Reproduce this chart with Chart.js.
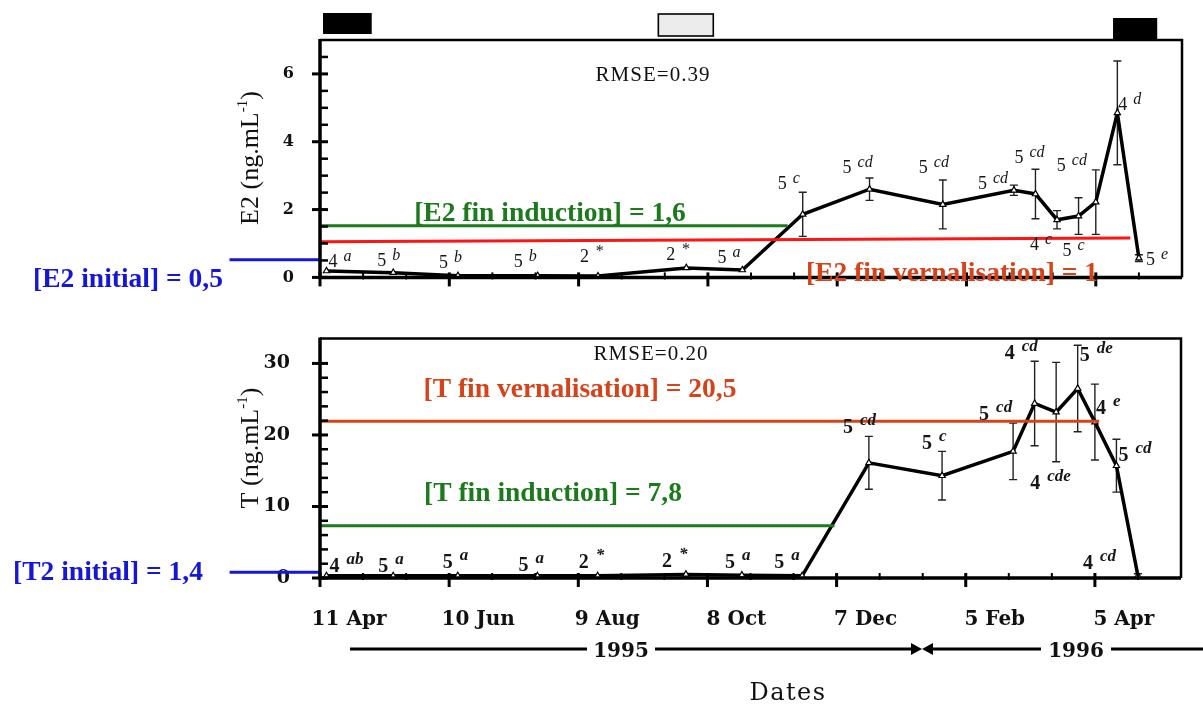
<!DOCTYPE html>
<html>
<head>
<meta charset="utf-8">
<title>E2 et T</title>
<script src="https://cdn.jsdelivr.net/npm/chart.js@4.4.1/dist/chart.umd.min.js"></script>
<style>
  html, body { margin: 0; padding: 0; background: #fff; }
  #wrap { position: relative; width: 1203px; height: 704px; overflow: hidden; }
  canvas { position: absolute; left: 0; }
  #chE2 { top: 0; }
  #chT { top: 305px; }
</style>
</head>
<body>
<div id="wrap">
  <canvas id="chE2" width="1203" height="305"></canvas>
  <canvas id="chT" width="1203" height="399"></canvas>
</div>
<script>
(function () {
  // days since 11 Apr 1995
  const sampleDays = [3, 34, 64, 101, 129, 170, 196, 224, 255, 289, 322, 332, 342, 352, 360, 370, 380];
  const tickLabels = ['11 Apr', '10 Jun', '9 Aug', '8 Oct', '7 Dec', '5 Feb', '5 Apr'];

  // E2 (ng/mL)
  const e2Values = [0.19, 0.14, 0.05, 0.05, 0.04, 0.28, 0.22, 1.86, 2.6, 2.15, 2.57, 2.46, 1.7, 1.81, 2.22, 4.85, 0.57];
  const e2Err = [0, 0, 0, 0, 0, 0, 0, 0.65, 0.33, 0.72, 0.15, 0.73, 0.27, 0.54, 0.95, 1.53, 0.1];
  const e2N = ['4', '5', '5', '5', '2', '2', '5', '5', '5', '5', '5', '5', '4', '5', '5', '4', '5'];
  const e2Letters = ['a', 'b', 'b', 'b', '*', '*', 'a', 'c', 'cd', 'cd', 'cd', 'cd', 'c', 'c', 'cd', 'd', 'e'];

  // T (ng/mL)
  const tValues = [0.3, 0.3, 0.3, 0.3, 0.3, 0.5, 0.4, 0.3, 16.1, 14.3, 17.7, 24.4, 23.2, 26.5, 21.8, 15.7, 0.3];
  const tErr = [0, 0, 0, 0, 0, 0, 0, 0, 3.7, 3.4, 3.95, 5.9, 6.95, 6.05, 5.3, 3.7, 0.3];
  const tN = ['4', '5', '5', '5', '2', '2', '5', '5', '5', '5', '5', '4', '4', '5', '4', '5', '4'];
  const tLetters = ['ab', 'a', 'a', 'a', '*', '*', 'a', 'a', 'cd', 'c', 'cd', 'cd', 'cde', 'de', 'e', 'cd', 'cd'];

  // threshold lines [day, value]
  const e2InitialLine = [[-42, 0.52], [0, 0.52]];
  const e2InductionLine = [[0, 1.52], [217, 1.52]];
  const e2VernLine = [[0, 1.05], [376, 1.16]];
  const tInitialLine = [[-42, 0.8], [0, 0.8]];
  const tInductionLine = [[0, 7.3], [239, 7.3]];
  const tVernLine = [[0, 21.9], [362, 21.9]];

  // bars above the top panel [startDay, endDay]
  const darkPeriods = [[1.4, 24], [368, 388.5]];
  const lightPeriods = [[157, 182.5]];

  // n / letter label placement, px from the point (left edge, baseline)
  const e2LabelPos = [[2, -4], [-16, -7], [-19, -8], [-24, -9], [-18, -14], [-20, -8], [-25, -7], [-25, -25], [-27, -16],
    [-24, -31], [-36, -1], [-21, -31], [-27, 30], [-16, 40], [-39, -31], [1, -3], [7, 7]];
  const tLabelPos = [[3, -4], [-15, -4], [-15, -8], [-19, -5], [-19, -8], [-24, -7], [-17, -7], [-28, -8], [-26, -30],
    [-20, -27], [-34, -31], [-30, -44], [-26, 77], [2, -27], [1, -8], [2, -5], [-55, -7]];

  const GREEN = '#1b7a1b';
  const ORANGE = '#d4431a';
  const BLUE = '#1616d6';
  const SERIF = "'Liberation Serif'";
  const NOTE = `bold 27.5px ${SERIF}`;

  function txt(ctx, s, x, y, font, color, align, spacing) {
    ctx.save();
    ctx.font = font;
    ctx.fillStyle = color || '#111';
    ctx.textAlign = align || 'center';
    ctx.textBaseline = 'alphabetic';
    if (spacing) ctx.letterSpacing = spacing;
    ctx.fillText(s, x, y);
    ctx.restore();
  }

  function refLine(chart, pts, color, w) {
    const { x, y } = chart.scales;
    const ctx = chart.ctx;
    ctx.save();
    ctx.strokeStyle = color;
    ctx.lineWidth = w;
    ctx.beginPath();
    pts.forEach((p, i) => {
      const px = x.getPixelForValue(p[0]), py = y.getPixelForValue(p[1]);
      if (i) ctx.lineTo(px, py); else ctx.moveTo(px, py);
    });
    ctx.stroke();
    ctx.restore();
  }

  function errBars(chart, vals, err) {
    const { x, y } = chart.scales;
    const ctx = chart.ctx;
    ctx.save();
    ctx.strokeStyle = '#222';
    ctx.lineWidth = 1.4;
    sampleDays.forEach((d, i) => {
      if (!err[i]) return;
      const px = x.getPixelForValue(d);
      const hi = y.getPixelForValue(vals[i] + err[i]);
      const lo = y.getPixelForValue(vals[i] - err[i]);
      ctx.beginPath();
      ctx.moveTo(px, hi); ctx.lineTo(px, lo);
      ctx.moveTo(px - 4, hi); ctx.lineTo(px + 4, hi);
      ctx.moveTo(px - 4, lo); ctx.lineTo(px + 4, lo);
      ctx.stroke();
    });
    ctx.restore();
  }

  function pointLabels(chart, nArr, letters, pos, f) {
    const ctx = chart.ctx;
    const pts = chart.getDatasetMeta(0).data;
    ctx.save();
    ctx.fillStyle = '#161616';
    ctx.textAlign = 'left';
    ctx.textBaseline = 'alphabetic';
    pts.forEach((p, i) => {
      const lx = p.x + pos[i][0], ly = p.y + pos[i][1];
      ctx.font = f.num;
      ctx.fillText(nArr[i], lx, ly);
      const w = ctx.measureText(nArr[i]).width;
      ctx.font = f.sup;
      ctx.fillText(letters[i], lx + w + f.gap, ly - f.rise);
    });
    ctx.restore();
  }

  function frame(chart, yMajor) {
    const { left, right, top, bottom } = chart.chartArea;
    const { x, y } = chart.scales;
    const ctx = chart.ctx;
    ctx.save();
    ctx.strokeStyle = '#000';
    ctx.lineWidth = 2.5;
    ctx.beginPath();
    ctx.moveTo(left, top); ctx.lineTo(right, top); ctx.lineTo(right, bottom);
    ctx.stroke();
    ctx.lineWidth = 3.5;
    ctx.beginPath();
    ctx.moveTo(left, top - 1); ctx.lineTo(left, bottom); ctx.lineTo(right, bottom);
    ctx.stroke();
    y.ticks.forEach(t => {
      if (t.value >= y.max) return;
      const py = y.getPixelForValue(t.value);
      const major = t.value % yMajor === 0;
      ctx.lineWidth = major ? 3 : 2.5;
      ctx.beginPath();
      ctx.moveTo(major ? left - 8 : left, py); ctx.lineTo(left + 8, py);
      ctx.stroke();
    });
    x.ticks.forEach(t => {
      if (t.value >= x.max) return;
      const px = x.getPixelForValue(t.value);
      const major = t.value % 60 === 0;
      ctx.lineWidth = major ? 3 : 2;
      ctx.beginPath();
      ctx.moveTo(px, bottom - 5); ctx.lineTo(px, major ? bottom + 9 : bottom + 2);
      ctx.stroke();
    });
    ctx.restore();
  }

  function yTitle(ctx, main, cx, cy) {
    ctx.save();
    ctx.translate(cx, cy);
    ctx.rotate(-Math.PI / 2);
    ctx.fillStyle = '#111';
    ctx.textAlign = 'left';
    const big = `26px ${SERIF}`, small = `15px ${SERIF}`;
    const a = main + ' (ng.mL', s = '-1', b = ')';
    ctx.font = big; const wa = ctx.measureText(a).width; const wb = ctx.measureText(b).width;
    ctx.font = small; const ws = ctx.measureText(s).width;
    const x0 = -(wa + ws + wb) / 2;
    ctx.font = big; ctx.fillText(a, x0, 9);
    ctx.font = small; ctx.fillText(s, x0 + wa, -2);
    ctx.font = big; ctx.fillText(b, x0 + wa + ws, 9);
    ctx.restore();
  }

  function options(o) {
    return {
      responsive: false,
      animation: false,
      devicePixelRatio: 1,
      layout: { padding: o.padding },
      plugins: { legend: { display: false }, tooltip: { enabled: false } },
      scales: {
        x: {
          type: 'linear', min: 0, max: 400,
          grid: { display: false }, border: { display: false },
          afterFit: s => { s.height = o.xHeight; },
          ticks: {
            display: o.showX, stepSize: 20, autoSkip: false, maxRotation: 0,
            padding: 22, labelOffset: 29, color: '#111',
            font: { family: 'DejaVu Serif', weight: 'bold', size: 20 },
            callback: v => (v % 60 === 0 && tickLabels[v / 60]) ? tickLabels[v / 60] : ''
          }
        },
        y: {
          min: 0, max: o.yMax,
          grid: { display: false }, border: { display: false },
          afterFit: s => { s.width = 320; },
          ticks: {
            stepSize: o.yStep, autoSkip: false, padding: o.yPad, color: '#111',
            font: { family: 'DejaVu Serif', weight: 'bold', size: o.yFont },
            callback: v => (v % o.yMajor === 0 && v < o.yMax) ? v : ''
          }
        }
      }
    };
  }

  function series(vals) {
    return {
      data: sampleDays.map((d, i) => ({ x: d, y: vals[i] })),
      borderColor: '#000', borderWidth: 3.5, tension: 0,
      pointStyle: 'triangle', pointRadius: 3.6,
      pointBackgroundColor: '#fff', pointBorderColor: '#000', pointBorderWidth: 1.2
    };
  }

  const e2Deco = {
    id: 'e2Deco',
    beforeDatasetsDraw(chart) { errBars(chart, e2Values, e2Err); },
    afterDatasetsDraw(chart) {
      refLine(chart, e2InductionLine, GREEN, 3);
      refLine(chart, e2VernLine, '#ff1414', 3);
      refLine(chart, e2InitialLine, BLUE, 3);
      pointLabels(chart, e2N, e2Letters, e2LabelPos,
        { num: `18px ${SERIF}`, sup: `italic 16px ${SERIF}`, gap: 6, rise: 6 });
    },
    afterDraw(chart) {
      const ctx = chart.ctx, x = chart.scales.x;
      frame(chart, 2);
      ctx.save();
      darkPeriods.forEach(p => {
        ctx.fillStyle = '#000';
        ctx.fillRect(x.getPixelForValue(p[0]), p[0] < 100 ? 13 : 18, x.getPixelForValue(p[1]) - x.getPixelForValue(p[0]), 21);
      });
      lightPeriods.forEach(p => {
        const x0 = x.getPixelForValue(p[0]), x1 = x.getPixelForValue(p[1]);
        ctx.fillStyle = '#ececec';
        ctx.fillRect(x0, 14, x1 - x0, 22);
        ctx.strokeStyle = '#000';
        ctx.lineWidth = 1.6;
        ctx.strokeRect(x0, 14, x1 - x0, 22);
      });
      ctx.restore();
      txt(ctx, 'RMSE=0.39', 653, 81, `21px ${SERIF}`, '#111', 'center', '1px');
      txt(ctx, '[E2 fin induction] = 1,6', 550, 221, NOTE, GREEN);
      txt(ctx, '[E2 fin vernalisation] = 1', 952, 281, NOTE, ORANGE);
      txt(ctx, '[E2 initial] = 0,5', 128, 287, NOTE, BLUE);
      yTitle(ctx, 'E2', 249, 158);
    }
  };

  const tDeco = {
    id: 'tDeco',
    beforeDatasetsDraw(chart) { errBars(chart, tValues, tErr); },
    afterDatasetsDraw(chart) {
      refLine(chart, tInductionLine, GREEN, 3);
      refLine(chart, tVernLine, ORANGE, 3);
      refLine(chart, tInitialLine, BLUE, 3);
      pointLabels(chart, tN, tLetters, tLabelPos,
        { num: `bold 20px ${SERIF}`, sup: `bold italic 17px ${SERIF}`, gap: 7, rise: 8 });
    },
    afterDraw(chart) {
      const ctx = chart.ctx;
      frame(chart, 10);
      txt(ctx, 'RMSE=0.20', 651, 55, `21px ${SERIF}`, '#111', 'center', '1px');
      txt(ctx, '[T fin vernalisation] = 20,5', 580, 92, NOTE, ORANGE);
      txt(ctx, '[T fin induction] = 7,8', 553, 196, NOTE, GREEN);
      txt(ctx, '[T2 initial] = 1,4', 108, 275, NOTE, BLUE);
      yTitle(ctx, 'T', 249, 143);

      // year line
      const yy = 344;
      ctx.save();
      ctx.strokeStyle = '#000';
      ctx.fillStyle = '#000';
      ctx.lineWidth = 3;
      ctx.beginPath();
      ctx.moveTo(350, yy); ctx.lineTo(587, yy);
      ctx.moveTo(655, yy); ctx.lineTo(914, yy);
      ctx.moveTo(931, yy); ctx.lineTo(1041, yy);
      ctx.moveTo(1111, yy); ctx.lineTo(1203, yy);
      ctx.stroke();
      ctx.beginPath();
      ctx.moveTo(911, yy - 6); ctx.lineTo(922, yy); ctx.lineTo(911, yy + 6); ctx.closePath();
      ctx.moveTo(933, yy - 6); ctx.lineTo(922, yy); ctx.lineTo(933, yy + 6); ctx.closePath();
      ctx.fill();
      ctx.restore();
      txt(ctx, '1995', 621, yy + 8, "bold 20px 'DejaVu Serif'", '#111');
      txt(ctx, '1996', 1076, yy + 8, "bold 20px 'DejaVu Serif'", '#111');
      txt(ctx, 'Dates', 788, 395, "24px 'DejaVu Serif'", '#111', 'center', '1.5px');
    }
  };

  new Chart(document.getElementById('chE2').getContext('2d'), {
    type: 'line',
    data: { datasets: [series(e2Values)] },
    options: options({ padding: { left: 0, right: 21, top: 40, bottom: 0 }, xHeight: 11, showX: false,
      yMax: 7, yStep: 0.5, yMajor: 2, yFont: 16, yPad: 18 }),
    plugins: [e2Deco]
  });

  new Chart(document.getElementById('chT').getContext('2d'), {
    type: 'line',
    data: { datasets: [series(tValues)] },
    options: options({ padding: { left: 0, right: 21, top: 17, bottom: 0 }, xHeight: 126, showX: true,
      yMax: 33.5, yStep: 2, yMajor: 10, yFont: 19, yPad: 22 }),
    plugins: [tDeco]
  });
})();
</script>
</body>
</html>
